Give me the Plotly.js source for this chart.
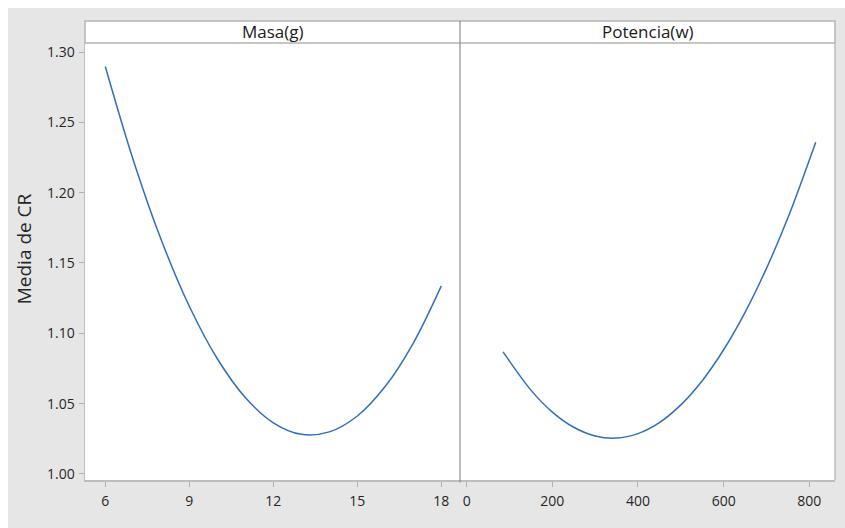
<!DOCTYPE html>
<html>
<head>
<meta charset="utf-8">
<script src="https://cdn.plot.ly/plotly-3.0.1.min.js"></script>
<style>
html,body{margin:0;padding:0;background:#ffffff;width:845px;height:528px;overflow:hidden;}
#chart{position:absolute;left:8px;top:8px;width:837px;height:520px;}
</style>
</head>
<body>
<div id="chart"></div>
<script>
// Panel titles
const panelTitles = ["Masa(g)", "Potencia(w)"];
const yTitle = "Media de CR";

// Masa(g) curve
const masaX = [6, 7, 8, 9, 10, 11, 12, 13, 14, 15, 16, 17, 18];
const masaY = [1.2897, 1.2231, 1.1663, 1.1192, 1.0819, 1.0543, 1.0364, 1.0282, 1.0299, 1.0412, 1.0623, 1.0931, 1.1337];

// Potencia(w) curve
const potX = [85, 150, 200, 250, 300, 350, 400, 450, 500, 550, 600, 650, 700, 750, 815];
const potY = [1.0868, 1.0596, 1.0440, 1.0332, 1.0270, 1.0255, 1.0287, 1.0365, 1.0491, 1.0663, 1.0883, 1.1149, 1.1462, 1.1821, 1.2359];

// Tick labels
const yTicks = [1.00, 1.05, 1.10, 1.15, 1.20, 1.25, 1.30];
const masaTicks = [6, 9, 12, 15, 18];
const potTicks = [0, 200, 400, 600, 800];

const lineColor = '#2f6fbf';
const fam = 'Open Sans, Noto Sans, sans-serif';
const font = {family: fam, size: 14, color: '#262626'};

const traces = [
  {x: masaX, y: masaY, type: 'scatter', mode: 'lines', xaxis: 'x', yaxis: 'y',
   line: {color: lineColor, width: 1.5, shape: 'spline'}, hoverinfo: 'skip'},
  {x: potX, y: potY, type: 'scatter', mode: 'lines', xaxis: 'x2', yaxis: 'y',
   line: {color: lineColor, width: 1.5, shape: 'spline'}, hoverinfo: 'skip'}
];

const hdr = 1 + 22/437;
const axCommon = {showgrid: false, zeroline: false, showline: true, linecolor: '#bdbdbd', linewidth: 1.5,
  ticks: 'outside', ticklen: 5, tickwidth: 1, tickcolor: '#b0b0b0', tickfont: font, fixedrange: true};

const layout = {
  width: 837, height: 520,
  paper_bgcolor: '#e6e6e6', plot_bgcolor: '#ffffff',
  margin: {l: 77, r: 10, t: 35, b: 48},
  showlegend: false,
  xaxis: Object.assign({}, axCommon, {domain: [0, 0.5], range: [5.275, 18.667], tickvals: masaTicks, ticktext: masaTicks.map(String), anchor: 'y', ticklabelstandoff: 3}),
  xaxis2: Object.assign({}, axCommon, {domain: [0.5, 1], range: [-15.6, 860], tickvals: potTicks, ticktext: potTicks.map(String), anchor: 'y', ticklabelstandoff: 3}),
  yaxis: Object.assign({}, axCommon, {range: [0.9957, 1.3064], tickvals: yTicks, ticktext: yTicks.map(v => v.toFixed(2)), anchor: 'x', ticklabelstandoff: 1}),
  shapes: [
    {type: 'rect', xref: 'paper', yref: 'paper', x0: 0, x1: 1, y0: 1, y1: hdr, fillcolor: '#ffffff', line: {color: '#b4b4b4', width: 1.5}, layer: 'below'},
    {type: 'line', xref: 'paper', yref: 'paper', x0: 1, x1: 1, y0: 0, y1: 1, line: {color: '#bdbdbd', width: 1.5}},
    {type: 'line', xref: 'paper', yref: 'paper', x0: 0.5, x1: 0.5, y0: -0.006, y1: hdr, line: {color: '#8c8c8c', width: 1.2}}
  ],
  annotations: [
    {text: panelTitles[0], xref: 'paper', yref: 'paper', x: 0.25, y: (1 + hdr)/2, showarrow: false, xanchor: 'center', yanchor: 'middle', font: {family: fam, size: 17, color: '#1a1a1a'}},
    {text: panelTitles[1], xref: 'paper', yref: 'paper', x: 0.75, y: (1 + hdr)/2, showarrow: false, xanchor: 'center', yanchor: 'middle', font: {family: fam, size: 17, color: '#1a1a1a'}},
    {text: yTitle, xref: 'paper', yref: 'paper', x: -0.0813, y: 0.528, textangle: -90, showarrow: false, xanchor: 'center', yanchor: 'middle', font: {family: fam, size: 19, color: '#262626'}}
  ]
};

Plotly.newPlot('chart', traces, layout, {staticPlot: true, displayModeBar: false});
</script>
</body>
</html>
